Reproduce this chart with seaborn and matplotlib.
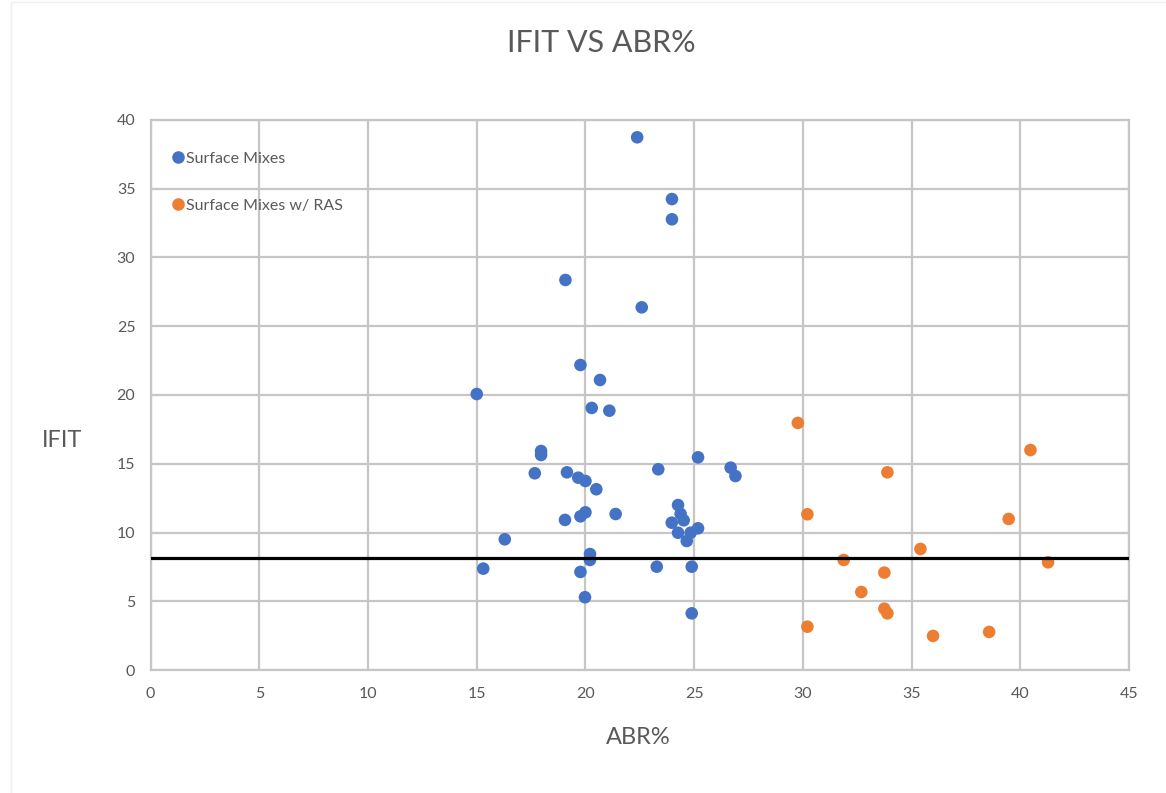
import matplotlib
matplotlib.use("Agg")
import matplotlib.pyplot as plt
import seaborn as sns
import pandas as pd
from matplotlib.patches import Rectangle

# ABR% (x) and IFIT (y) for the plain surface mixes
surface_abr = [22.38, 23.98, 23.98, 19.08, 22.59, 19.77, 20.67, 15.00, 20.29, 21.10,
               17.96, 17.96, 25.18, 23.35, 26.68, 26.90, 17.67, 19.15, 19.67, 20.00,
               20.50, 24.26, 24.38, 24.52, 23.97, 21.39, 20.00, 19.77, 19.06, 25.18,
               24.84, 24.26, 24.66, 16.29, 20.21, 20.21, 15.30, 19.77, 23.28, 24.89,
               19.98, 24.89]
surface_ifit = [38.73, 34.24, 32.77, 28.36, 26.37, 22.18, 21.09, 20.07, 19.06, 18.86,
                15.93, 15.64, 15.47, 14.60, 14.72, 14.11, 14.31, 14.38, 13.99, 13.75,
                13.15, 12.00, 11.35, 10.89, 10.72, 11.35, 11.47, 11.18, 10.92, 10.31,
                9.99, 9.99, 9.39, 9.51, 8.44, 8.01, 7.38, 7.14, 7.52, 7.52,
                5.30, 4.13]

# ABR% (x) and IFIT (y) for the surface mixes with RAS
ras_abr = [29.77, 40.47, 33.89, 30.21, 39.47, 35.41, 31.88, 41.28, 33.75, 32.69,
           33.75, 33.89, 30.21, 35.99, 38.57]
ras_ifit = [17.97, 16.00, 14.38, 11.33, 10.99, 8.81, 8.01, 7.84, 7.09, 5.68,
            4.47, 4.13, 3.16, 2.49, 2.78]

series_names = ["Surface Mixes", "Surface Mixes w/ RAS"]
series_colors = ["#4472C4", "#ED7D31"]
threshold_ifit = 8.13

x_ticks = list(range(0, 46, 5))
y_ticks = list(range(0, 41, 5))

df = pd.DataFrame({
    "ABR%": surface_abr + ras_abr,
    "IFIT": surface_ifit + ras_ifit,
    "Series": [series_names[0]] * len(surface_abr) + [series_names[1]] * len(ras_abr),
})

sns.set_theme(style="white")
plt.rcParams["font.family"] = ["Lato", "DejaVu Sans"]

text_color = "#595959"
grid_color = "#c6c6c6"

fig = plt.figure(figsize=(11.66, 7.93), dpi=100)
ax = fig.add_axes([0.1292, 0.1549, 0.839, 0.694])

sns.scatterplot(data=df, x="ABR%", y="IFIT", hue="Series", hue_order=series_names,
                palette=series_colors, s=82, linewidth=0, ax=ax, zorder=3)

ax.axhline(threshold_ifit, color="black", linewidth=2.3, zorder=4)

ax.set_xlim(0, 45)
ax.set_ylim(0, 40)
ax.set_xticks(x_ticks)
ax.set_yticks(y_ticks)
ax.grid(True, color=grid_color, linewidth=1.6, zorder=0)
ax.set_axisbelow(True)
for sp in ax.spines.values():
    sp.set_color(grid_color)
    sp.set_linewidth(1.6)
ax.tick_params(axis="both", length=0, labelsize=11.5, labelcolor=text_color)
ax.tick_params(axis="x", pad=12)
ax.tick_params(axis="y", pad=11)

ax.set_xlabel("ABR%", fontsize=17, color=text_color)
ax.xaxis.set_label_coords(0.498, -0.103)
ax.set_ylabel("IFIT", fontsize=17, color=text_color, rotation=0, va="center", ha="center")
ax.yaxis.set_label_coords(-0.0906, 0.418)

fig.text(601 / 1166, 1 - 43.5 / 793, "IFIT VS ABR%", fontsize=22, color=text_color,
         ha="center", va="center")

leg = ax.legend(loc="upper left", bbox_to_anchor=(0.0215, 0.942), frameon=False,
                fontsize=11.5, labelspacing=2.05, handletextpad=0.1, handlelength=0.8,
                borderpad=0, borderaxespad=0, markerscale=1.0)
for t in leg.get_texts():
    t.set_color(text_color)

# faint outline of the chart area
fig.patches.append(Rectangle((11 / 1166, -0.1), 1.2, 1.098, transform=fig.transFigure,
                             fill=False, edgecolor="#efefef", linewidth=1.0))

fig.savefig("out.png", dpi=100)
